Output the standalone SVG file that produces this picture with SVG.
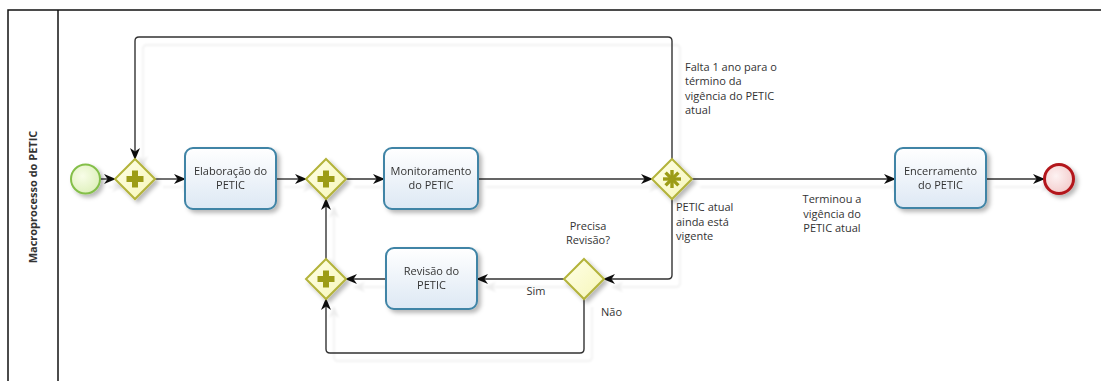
<svg xmlns="http://www.w3.org/2000/svg" width="1101" height="381" viewBox="0 0 1101 381">
<style>
text{font-family:"Open Sans","DejaVu Sans",sans-serif;font-size:11px;fill:#333}
.c{text-anchor:middle}
.conn{fill:none;stroke:#333;stroke-width:1.4}
.task{fill:url(#gTask);stroke:#3f84a6;stroke-width:2}
.gw{fill:url(#gGw);stroke:#b3b33a;stroke-width:2}
.sym{fill:#9c9c14}
.pool{fill:none;stroke:#111;stroke-width:1.5}
</style>
<defs>
<linearGradient id="gTask" x1="0" y1="0" x2="0" y2="1"><stop offset="0" stop-color="#ffffff"/><stop offset="1" stop-color="#dde8f4"/></linearGradient>
<linearGradient id="gGw" x1="0" y1="0" x2="1" y2="1"><stop offset="0" stop-color="#ffffe8"/><stop offset="1" stop-color="#f6f6b8"/></linearGradient>
<radialGradient id="gStart" cx="0.4" cy="0.4" r="0.7"><stop offset="0" stop-color="#f8fde8"/><stop offset="1" stop-color="#dcefb8"/></radialGradient>
<radialGradient id="gEnd" cx="0.4" cy="0.4" r="0.7"><stop offset="0" stop-color="#fdf2f2"/><stop offset="1" stop-color="#f2c8c8"/></radialGradient>
<filter id="sh" x="-20%" y="-20%" width="150%" height="150%"><feDropShadow dx="3" dy="3" stdDeviation="2" flood-color="#000" flood-opacity="0.28"/></filter>
<filter id="lsh" x="-5%" y="-10%" width="110%" height="130%"><feDropShadow dx="8" dy="8" stdDeviation="0.8" flood-color="#000" flood-opacity="0.07"/></filter>
<marker id="arr" markerWidth="12" markerHeight="10" refX="11" refY="5" orient="auto" markerUnits="userSpaceOnUse"><path d="M0,0 L12,5 L0,10 L3.5,5 z" fill="#111"/></marker>
</defs>
<rect x="0" y="0" width="1101" height="381" fill="#fff"/>
<g id="pool">
<path class="pool" d="M8,381 V10 H1101"/>
<line class="pool" x1="58" y1="10" x2="58" y2="381"/>
<text transform="translate(37,197) rotate(-90)" class="c" style="font-weight:bold">Macroprocesso do PETIC</text>
</g>
<g id="connectors" filter="url(#lsh)">
<path class="conn" d="M100,179 H115" marker-end="url(#arr)"/>
<path class="conn" d="M155,179 H185" marker-end="url(#arr)"/>
<path class="conn" d="M276,179 H306" marker-end="url(#arr)"/>
<path class="conn" d="M346,179 H384" marker-end="url(#arr)"/>
<path class="conn" d="M478,179 H652" marker-end="url(#arr)"/>
<path class="conn" d="M692,179 H895" marker-end="url(#arr)"/>
<path class="conn" d="M986,179 H1044" marker-end="url(#arr)"/>
<path class="conn" d="M672,159 V41 Q672,37 668,37 H139 Q135,37 135,41 V159" marker-end="url(#arr)"/>
<path class="conn" d="M672,199 V275 Q672,279 668,279 H604" marker-end="url(#arr)"/>
<path class="conn" d="M564,279 H477" marker-end="url(#arr)"/>
<path class="conn" d="M386,279 H346" marker-end="url(#arr)"/>
<path class="conn" d="M584,299 V349 Q584,353 580,353 H330 Q326,353 326,349 V299" marker-end="url(#arr)"/>
<path class="conn" d="M326,259 V199" marker-end="url(#arr)"/>
</g>
<g id="labels">
<text x="685" y="71">Falta 1 ano para o</text>
<text x="685" y="85">término da</text>
<text x="685" y="100">vigência do PETIC</text>
<text x="685" y="114">atual</text>
<text x="676" y="211">PETIC atual</text>
<text x="676" y="226">ainda está</text>
<text x="676" y="240">vigente</text>
<text x="832" y="203" class="c">Terminou a</text>
<text x="832" y="218" class="c">vigência do</text>
<text x="832" y="232" class="c">PETIC atual</text>
<text x="588" y="230" class="c">Precisa</text>
<text x="588" y="244" class="c">Revisão?</text>
<text x="536" y="295" class="c">Sim</text>
<text x="601" y="316">Não</text>
</g>
<g id="start" filter="url(#sh)"><circle cx="85.5" cy="179" r="14.5" fill="url(#gStart)" stroke="#84bf4a" stroke-width="2"/></g>
<g id="gw1" filter="url(#sh)"><path class="gw" d="M135,159 L155,179 L135,199 L115,179 Z"/><path class="sym" d="M132,170.5 h6 v5.5 h5.5 v6 h-5.5 v5.5 h-6 v-5.5 h-5.5 v-6 h5.5 z"/></g>
<g id="elaboracao" filter="url(#sh)"><rect class="task" x="185" y="148" width="91" height="61" rx="8"/><text x="230.5" y="175" class="c">Elaboração do</text><text x="230.5" y="189" class="c">PETIC</text></g>
<g id="gw2" filter="url(#sh)"><path class="gw" d="M326,159 L346,179 L326,199 L306,179 Z"/><path class="sym" d="M323,170.5 h6 v5.5 h5.5 v6 h-5.5 v5.5 h-6 v-5.5 h-5.5 v-6 h5.5 z"/></g>
<g id="monitoramento" filter="url(#sh)"><rect class="task" x="384" y="148" width="94" height="61" rx="8"/><text x="431" y="175" class="c">Monitoramento</text><text x="431" y="189" class="c">do PETIC</text></g>
<g id="gwEvent" filter="url(#sh)"><path class="gw" d="M672,159 L692,179 L672,199 L652,179 Z"/>
<g stroke="#9c9c14" stroke-width="3.4" stroke-linecap="butt"><line x1="672" y1="170" x2="672" y2="188"/><line x1="663" y1="179" x2="681" y2="179"/><line x1="665.6" y1="172.6" x2="678.4" y2="185.4"/><line x1="678.4" y1="172.6" x2="665.6" y2="185.4"/></g></g>
<g id="encerramento" filter="url(#sh)"><rect class="task" x="895" y="148" width="91" height="60" rx="8"/><text x="940.5" y="175" class="c">Encerramento</text><text x="940.5" y="189" class="c">do PETIC</text></g>
<g id="end" filter="url(#sh)"><circle cx="1059" cy="179" r="14.5" fill="url(#gEnd)" stroke="#b3191c" stroke-width="3"/></g>
<g id="gwExclusive" filter="url(#sh)"><path class="gw" d="M584,259 L604,279 L584,299 L564,279 Z"/></g>
<g id="revisao" filter="url(#sh)"><rect class="task" x="386" y="248" width="91" height="61" rx="8"/><text x="431.5" y="275" class="c">Revisão do</text><text x="431.5" y="289" class="c">PETIC</text></g>
<g id="gw3" filter="url(#sh)"><path class="gw" d="M326,259 L346,279 L326,299 L306,279 Z"/><path class="sym" d="M323,270.5 h6 v5.5 h5.5 v6 h-5.5 v5.5 h-6 v-5.5 h-5.5 v-6 h5.5 z"/></g>
</svg>
